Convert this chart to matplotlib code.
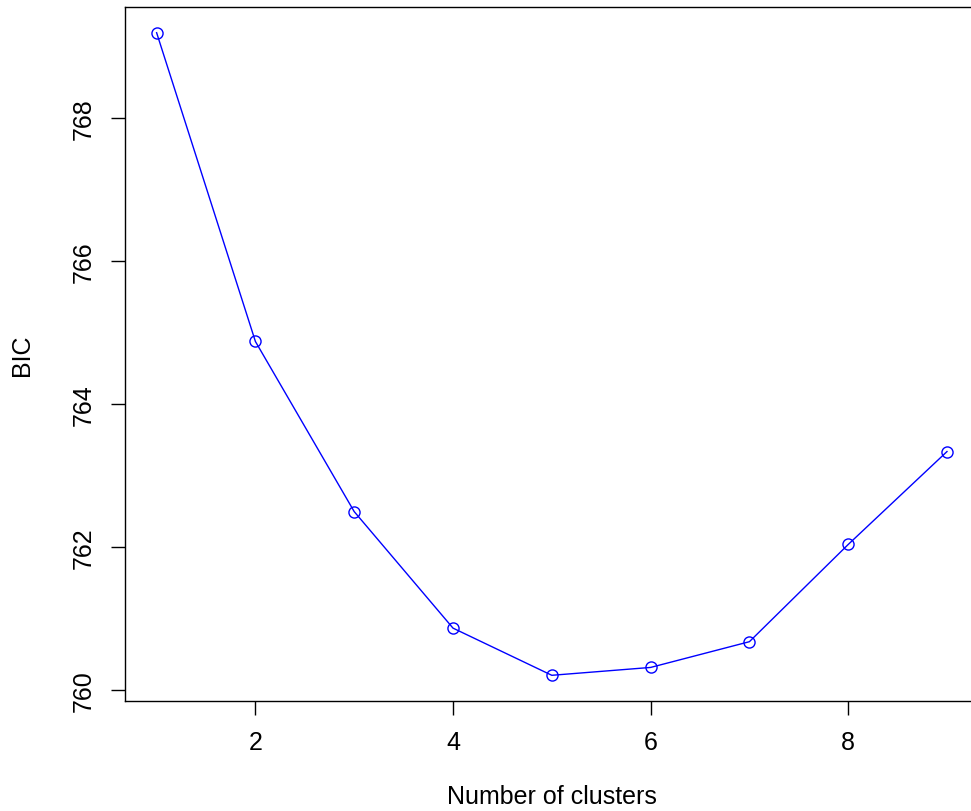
import numpy as np
import matplotlib
matplotlib.use('Agg')
from matplotlib import pyplot as plt

plt.rcParams['font.family'] = ['Liberation Sans', 'DejaVu Sans']

clusters = [1, 2, 3, 4, 5, 6, 7, 8, 9]
bic = [769.20, 764.88, 762.50, 760.87, 760.21, 760.32, 760.68, 762.04, 763.34]
xticks = [2, 4, 6, 8]
yticks = [760, 762, 764, 766, 768]

fig = plt.figure(figsize=(9.71, 8.12), dpi=100)
# right edge of the box falls outside the picture, as in the original
ax = fig.add_axes([125/971, 1 - 702/812, 853.6/971, 694/812])

ax.plot(clusters, bic, color='blue', lw=1.0, marker='o', ms=8,
        mfc='none', mec='blue', mew=1.0)

# R style 4% padding on both axes
xr = max(clusters) - min(clusters)
yr = max(bic) - min(bic)
ax.set_xlim(min(clusters) - 0.04*xr, max(clusters) + 0.04*xr)
ax.set_ylim(min(bic) - 0.04*yr, max(bic) + 0.04*yr)

ax.set_xticks(xticks)
ax.set_yticks(yticks)
ax.tick_params(direction='out', length=10, width=1, labelsize=18, pad=11)
for lbl in ax.get_yticklabels():
    lbl.set_rotation(90)
    lbl.set_va('center')

for s in ax.spines.values():
    s.set_linewidth(1.0)

ax.set_xlabel('Number of clusters', fontsize=18, va='center')
ax.xaxis.set_label_coords(0.5, -0.137)
ax.set_ylabel('BIC', fontsize=18, va='center', ha='center')
ax.yaxis.set_label_coords(-0.1207, 0.5)

fig.savefig('out.png', dpi=100)
